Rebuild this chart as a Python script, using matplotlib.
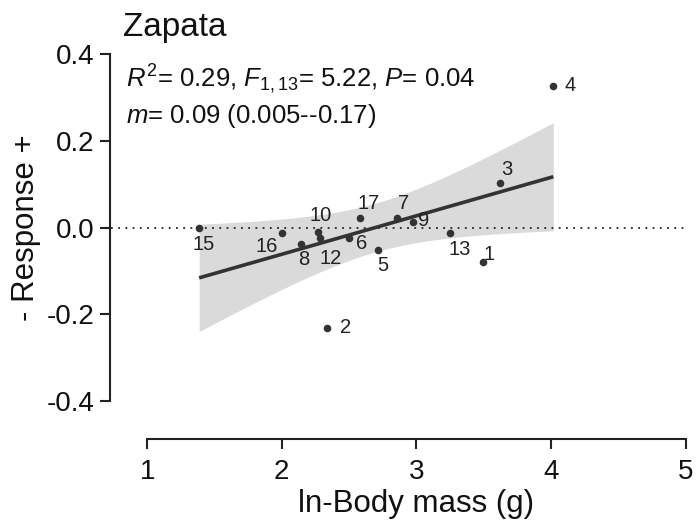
import numpy as np
import matplotlib
matplotlib.use("Agg")
import matplotlib.pyplot as plt

plt.rcParams['font.family'] = ['Liberation Sans', 'DejaVu Sans']
plt.rcParams['mathtext.fontset'] = 'custom'
plt.rcParams['mathtext.rm'] = 'Liberation Sans'
plt.rcParams['mathtext.it'] = 'Liberation Sans:italic'
plt.rcParams['axes.unicode_minus'] = False

# data
labels = ['15', '16', '8', '10', '12', '6', '17', '5', '7', '9', '2', '4', '3', '13', '1']
body_mass = [1.386, 2.002, 2.139, 2.272, 2.282, 2.500, 2.584, 2.718, 2.852, 2.973,
             2.339, 4.017, 3.618, 3.249, 3.497]
response = [0.000, -0.013, -0.038, -0.010, -0.025, -0.025, 0.023, -0.052, 0.022, 0.013,
            -0.232, 0.327, 0.102, -0.012, -0.079]
# label offsets in pixels (dx right, dy down)
label_offsets = [(4, 17), (-15, 13), (3, 15), (2, -16), (11, 20), (13, 5), (8, -14), (4, 15),
                 (7, -15), (11, -1), (18, -1), (17, 0), (7, -14), (10, 17), (6, -7)]
yticks = [-0.4, -0.2, 0.0, 0.2, 0.4]
xticks = [1, 2, 3, 4, 5]
t_crit = 2.1604  # t(0.975, 13)

x = np.array(body_mass)
y = np.array(response)
n = len(x)
slope, intercept = np.polyfit(x, y, 1)
resid = y - (slope * x + intercept)
s = np.sqrt(np.sum(resid ** 2) / (n - 2))
sxx = np.sum((x - x.mean()) ** 2)
xs = np.linspace(x.min(), x.max(), 200)
fit = slope * xs + intercept
half = t_crit * s * np.sqrt(1 / n + (xs - x.mean()) ** 2 / sxx)

fig = plt.figure(figsize=(6.96, 5.27), dpi=100)
ax = fig.add_axes([109.5 / 696, 1 - 439.3 / 527, (687 - 109.5) / 696, (439.3 - 54) / 527])
ax.set_xlim(0.72, 5.01)
ax.set_ylim(-0.488, 0.4)

ax.fill_between(xs, fit - half, fit + half, color='#dadada', lw=0, zorder=1)
ax.plot([0.73, 5.0], [0, 0], color='#222222', lw=1.3, ls=(0, (1, 3)), zorder=2, clip_on=False)
ax.plot(xs, fit, color='#333333', lw=2.6, zorder=3, solid_capstyle='butt')
ax.scatter(x, y, s=30, color='#333333', zorder=4, lw=0)
for lab, xi, yi, (dx, dy) in zip(labels, x, y, label_offsets):
    ax.annotate(lab, (xi, yi), xytext=(dx, -dy), textcoords='offset pixels',
                ha='center', va='center', fontsize=14.5, color='#222222')

for side in ['top', 'right']:
    ax.spines[side].set_visible(False)
ax.spines['left'].set_bounds(-0.4, 0.4)
ax.spines['bottom'].set_bounds(1, 5)
for side in ['left', 'bottom']:
    ax.spines[side].set_linewidth(1.5)
    ax.spines[side].set_color('#222222')
ax.set_yticks(yticks)
ax.set_yticklabels([f"{v:.1f}" for v in yticks])
ax.set_xticks(xticks)
ax.tick_params(axis='both', labelsize=20, width=1.5, length=7, color='#222222', labelcolor='#111111')
ax.tick_params(axis='y', pad=4)
ax.tick_params(axis='x', pad=7)

ax.set_xlabel('ln-Body mass (g)', fontsize=22.5, color='#111111')
ax.set_ylabel('- Response +', fontsize=22.5, color='#111111')
ax.xaxis.set_label_coords((3 - 0.72) / 4.29, -0.128)
ax.yaxis.set_label_coords(-0.118, 0.488 / 0.888)

fig.text(122.7 / 696, 1 - 36 / 527, 'Zapata', fontsize=24, va='baseline', color='#111111')
fig.text(126 / 696, 1 - 87 / 527, r'$R^{2}$= 0.29, $F_{\mathrm{1,13}}$= 5.22, $P$= 0.04',
         fontsize=18.5, va='baseline', color='#111111')
fig.text(126 / 696, 1 - 123 / 527, r'$m$= 0.09 (0.005--0.17)',
         fontsize=18.5, va='baseline', color='#111111')

fig.savefig('out.png', dpi=100)
